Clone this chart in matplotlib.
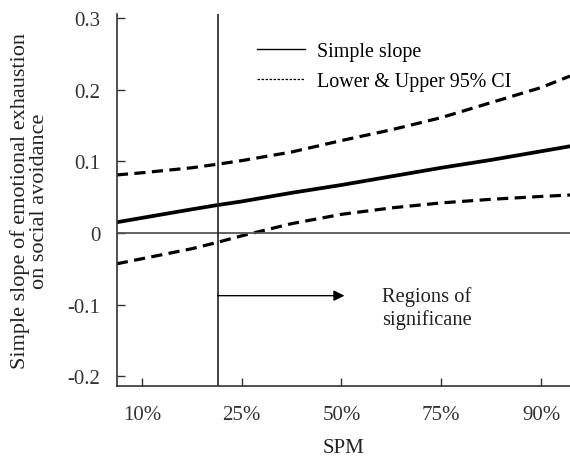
import matplotlib
matplotlib.use("Agg")
import matplotlib.pyplot as plt
from matplotlib.lines import Line2D

plt.rcParams['font.family'] = ['Liberation Serif', 'DejaVu Serif']
plt.rcParams['font.size'] = 15

# SPM percentiles (tick positions) and read-off values
tick_labels = ["10%", "25%", "50%", "75%", "90%"]
tick_pos = [0, 1, 2, 3, 4]
x = [-0.25, 0.0, 0.5, 0.76, 1.0, 1.5, 2.0, 2.5, 3.0, 3.5, 4.0, 4.29]
slope = [0.015, 0.021, 0.033, 0.039, 0.044, 0.056, 0.067, 0.079, 0.091, 0.102, 0.114, 0.121]
upper = [0.081, 0.084, 0.091, 0.096, 0.101, 0.113, 0.129, 0.144, 0.161, 0.182, 0.203, 0.219]
lower = [-0.043, -0.036, -0.022, -0.013, -0.004, 0.013, 0.026, 0.035, 0.042, 0.047, 0.051, 0.053]
jn_point = 0.76   # region of significance boundary

fig = plt.figure(figsize=(5.7, 4.6), dpi=100)
ax = fig.add_axes([0.205, 0.159, 0.795, 0.808])

ax.plot(x, slope, color='black', lw=2.7)
ax.plot(x, upper, color='black', lw=2.3, dashes=(3.5, 2))
ax.plot(x, lower, color='black', lw=2.3, dashes=(3.5, 2))

ax.axhline(0, color='#555555', lw=1.3)
ax.axvline(jn_point, color='#222222', lw=1.2)

ax.annotate('', xy=(2.03, -0.0875), xytext=(jn_point, -0.0875),
            arrowprops=dict(arrowstyle='-|>', mutation_scale=16, lw=1.0,
                            color='black', shrinkA=0, shrinkB=0))
ax.text(2.855, -0.104, "Regions of\nsignificane", ha='center', va='center',
        fontsize=14.8, color='#222222', linespacing=1.2)

handles = [Line2D([], [], color='black', lw=1.0),
           Line2D([], [], color='black', lw=0.9, dashes=(2, 1.2))]
ax.legend(handles, ["Simple slope", "Lower & Upper 95% CI"], frameon=False,
          loc='upper left', bbox_to_anchor=(0.309, 0.926), fontsize=14.4,
          handlelength=2.4, handletextpad=0.6, labelspacing=0.55,
          borderaxespad=0, borderpad=0)

ax.set_xlim(-0.25, 4.29)
ax.set_ylim(-0.2134, 0.3054)
ax.set_xticks(tick_pos)
ax.set_xticklabels(tick_labels)
ax.set_yticks([-0.2, -0.1, 0, 0.1, 0.2, 0.3])
ax.set_yticklabels(["-0.2", "-0.1", "0", "0.1", "0.2", "0.3"])
ax.tick_params(direction='in', length=6, width=1.0, colors='#333333')
ax.tick_params(axis='y', pad=12)
ax.tick_params(axis='x', pad=14)

for s in ['top', 'right']:
    ax.spines[s].set_visible(False)
for s in ['left', 'bottom']:
    ax.spines[s].set_color('#333333')
    ax.spines[s].set_linewidth(1.2)

ax.set_xlabel("SPM", labelpad=10, color='#222222')
ax.set_ylabel("Simple slope of emotional exhaustion\non social avoidance",
              labelpad=13, color='#222222', linespacing=1.05, fontsize=16)

fig.savefig("out.png", dpi=100)
